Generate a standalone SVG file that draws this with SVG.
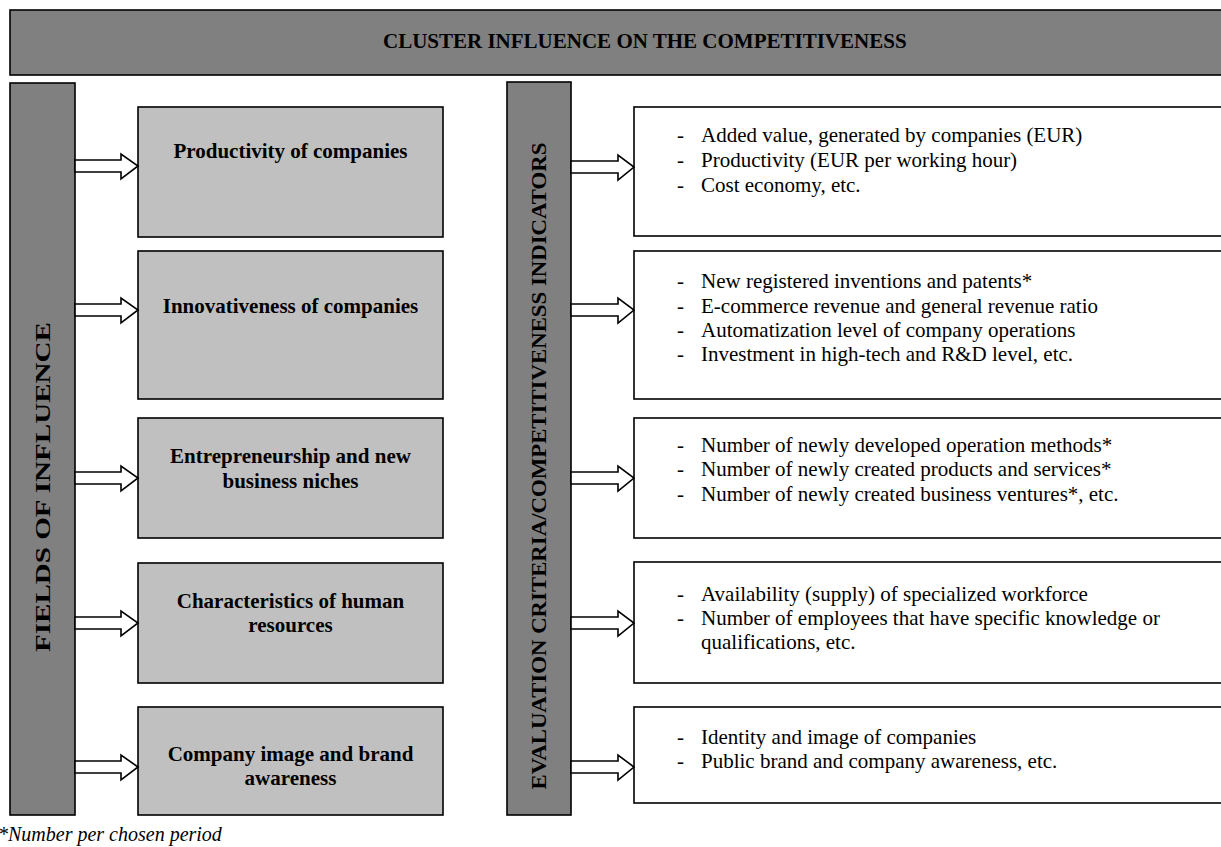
<svg xmlns="http://www.w3.org/2000/svg" width="1221" height="847" viewBox="0 0 1221 847">
<style>
.dark{fill:#808080;stroke:#000;stroke-width:1.6}
.gray{fill:#c0c0c0;stroke:#000;stroke-width:1.6}
.white{fill:#fff;stroke:#000;stroke-width:1.6}
.arrow{fill:#fff;stroke:#000;stroke-width:1.6;stroke-linejoin:miter}
.b{font-family:"Liberation Serif","Times New Roman",serif;font-weight:bold;font-size:21px;fill:#000}
.c{text-anchor:middle}
.r{font-family:"Liberation Serif","Times New Roman",serif;font-size:21px;fill:#000}
.foot{font-family:"Liberation Serif","Times New Roman",serif;font-style:italic;font-size:20px;fill:#000}
</style>
<rect x="0" y="0" width="1221" height="847" fill="#fff"/>

<g id="header">
<rect class="dark" x="10" y="10" width="1230" height="65"/>
<text class="b" x="383" y="48">CLUSTER INFLUENCE ON THE COMPETITIVENESS</text>
</g>

<g id="fields-bar">
<rect class="dark" x="10" y="83" width="65" height="732"/>
<text class="b c" transform="translate(50,487) rotate(-90)" textLength="330" lengthAdjust="spacingAndGlyphs">FIELDS OF INFLUENCE</text>
</g>

<g id="criteria-bar">
<rect class="dark" x="507" y="82" width="64" height="733"/>
<text class="b c" transform="translate(546,466) rotate(-90)" textLength="647" lengthAdjust="spacingAndGlyphs">EVALUATION CRITERIA/COMPETITIVENESS INDICATORS</text>
</g>

<g id="field-productivity">
<rect class="gray" x="138" y="107" width="305" height="130"/>
<text class="b c" x="290.5" y="158">Productivity of companies</text>
</g>
<g id="field-innovativeness">
<rect class="gray" x="138" y="251" width="305" height="148"/>
<text class="b c" x="290.5" y="313">Innovativeness of companies</text>
</g>
<g id="field-entrepreneurship">
<rect class="gray" x="138" y="418" width="305" height="120"/>
<text class="b c" x="290.5" y="463">Entrepreneurship and new</text>
<text class="b c" x="290.5" y="488">business niches</text>
</g>
<g id="field-human">
<rect class="gray" x="138" y="563" width="305" height="120"/>
<text class="b c" x="290.5" y="608">Characteristics of human</text>
<text class="b c" x="290.5" y="632">resources</text>
</g>
<g id="field-image">
<rect class="gray" x="138" y="707" width="305" height="108"/>
<text class="b c" x="290.5" y="761">Company image and brand</text>
<text class="b c" x="290.5" y="785">awareness</text>
</g>

<g id="ind-productivity">
<rect class="white" x="634" y="107" width="700" height="129"/>
<text class="r" x="677" y="142">-</text><text class="r" x="701" y="142">Added value, generated by companies (EUR)</text>
<text class="r" x="677" y="167">-</text><text class="r" x="701" y="167">Productivity (EUR per working hour)</text>
<text class="r" x="677" y="192">-</text><text class="r" x="701" y="192">Cost economy, etc.</text>
</g>
<g id="ind-innovativeness">
<rect class="white" x="634" y="251" width="700" height="148"/>
<text class="r" x="677" y="288">-</text><text class="r" x="701" y="288">New registered inventions and patents*</text>
<text class="r" x="677" y="313">-</text><text class="r" x="701" y="313">E-commerce revenue and general revenue ratio</text>
<text class="r" x="677" y="337">-</text><text class="r" x="701" y="337">Automatization level of company operations</text>
<text class="r" x="677" y="361">-</text><text class="r" x="701" y="361">Investment in high-tech and R&amp;D level, etc.</text>
</g>
<g id="ind-entrepreneurship">
<rect class="white" x="634" y="418" width="700" height="120"/>
<text class="r" x="677" y="452">-</text><text class="r" x="701" y="452">Number of newly developed operation methods*</text>
<text class="r" x="677" y="476">-</text><text class="r" x="701" y="476">Number of newly created products and services*</text>
<text class="r" x="677" y="501">-</text><text class="r" x="701" y="501">Number of newly created business ventures*, etc.</text>
</g>
<g id="ind-human">
<rect class="white" x="634" y="562" width="700" height="121"/>
<text class="r" x="677" y="601">-</text><text class="r" x="701" y="601">Availability (supply) of specialized workforce</text>
<text class="r" x="677" y="625">-</text><text class="r" x="701" y="625">Number of employees that have specific knowledge or</text>
<text class="r" x="701" y="649">qualifications, etc.</text>
</g>
<g id="ind-image">
<rect class="white" x="634" y="707" width="700" height="96"/>
<text class="r" x="677" y="744">-</text><text class="r" x="701" y="744">Identity and image of companies</text>
<text class="r" x="677" y="768">-</text><text class="r" x="701" y="768">Public brand and company awareness, etc.</text>
</g>

<g id="connectors">
<path class="arrow" d="M75,160 H121 V154 L138,166 L121,179 V172 H75 Z"/>
<path class="arrow" d="M75,304 H121 V298 L138,310 L121,323 V316 H75 Z"/>
<path class="arrow" d="M75,472 H121 V466 L138,478 L121,491 V484 H75 Z"/>
<path class="arrow" d="M75,617 H121 V611 L138,623 L121,636 V629 H75 Z"/>
<path class="arrow" d="M75,761 H121 V755 L138,767 L121,780 V773 H75 Z"/>
<path class="arrow" d="M571,161 H618 V155 L634,167 L618,180 V173 H571 Z"/>
<path class="arrow" d="M571,304 H618 V298 L634,310 L618,323 V316 H571 Z"/>
<path class="arrow" d="M571,472 H618 V466 L634,478 L618,491 V484 H571 Z"/>
<path class="arrow" d="M571,617 H618 V611 L634,623 L618,636 V629 H571 Z"/>
<path class="arrow" d="M571,761 H618 V755 L634,767 L618,780 V773 H571 Z"/>
</g>

<text class="foot" x="-2" y="841">*Number per chosen period</text>
</svg>
